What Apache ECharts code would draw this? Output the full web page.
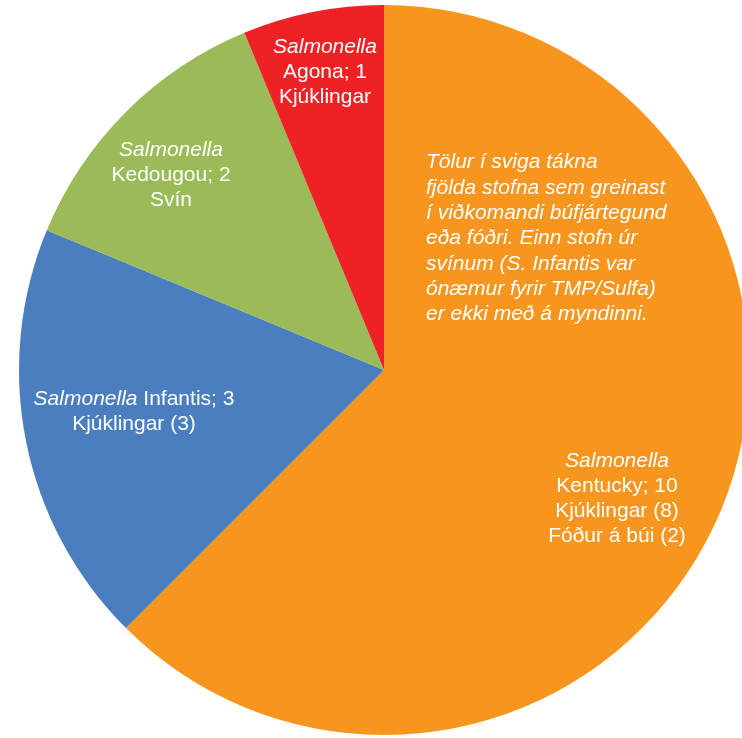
<!DOCTYPE html>
<html>
<head>
<meta charset="utf-8">
<script src="https://cdn.jsdelivr.net/npm/echarts@6/dist/echarts.min.js"></script>
<style>
html,body{margin:0;padding:0;background:#fff;}
#chart{width:742px;height:738px;}
</style>
</head>
<body>
<div id="chart"></div>
<script>
// Data
const serotypes = ['Kentucky', 'Infantis', 'Kedougou', 'Agona'];
const counts = [10, 3, 2, 1];
const sources = [
  ['Kjúklingar (8)', 'Fóður á búi (2)'],
  ['Kjúklingar (3)'],
  ['Svín'],
  ['Kjúklingar']
];
const noteLines = [
  'Tölur í sviga tákna',
  'fjölda stofna sem greinast',
  'í viðkomandi búfjártegund',
  'eða fóðri. Einn stofn úr',
  'svínum (S. Infantis var',
  'ónæmur fyrir TMP/Sulfa)',
  'er ekki með á myndinni.'
];

// Styling / layout (kept separate from data)
const colors = ['#F7961F', '#4A7EBF', '#9BBB59', '#EE2225'];
const labelPos = [[617, 499], [134, 412], [171, 175], [325, 72]];
const FONT = '"Liberation Sans", Arial, sans-serif';
const FS = 21;

function labelText(i) {
  const name = serotypes[i];
  const v = counts[i];
  let head;
  if (name === 'Infantis') {
    head = '{i|Salmonella}{n| ' + name + '; ' + v + '}';
  } else {
    head = '{i|Salmonella}\n{n|' + name + '; ' + v + '}';
  }
  return head + sources[i].map(s => '\n{n|' + s + '}').join('');
}

const chart = echarts.init(document.getElementById('chart'), null, {renderer: 'canvas'});
chart.setOption({
  animation: false,
  backgroundColor: '#ffffff',
  series: [{
    type: 'pie',
    center: [384, 370],
    radius: 365,
    startAngle: 90,
    clockwise: true,
    avoidLabelOverlap: false,
    data: serotypes.map((n, i) => ({
      name: n,
      value: counts[i],
      itemStyle: {color: colors[i]}
    })),
    itemStyle: {borderWidth: 0},
    emphasis: {disabled: true},
    label: {
      show: true,
      position: 'inside',
      formatter: p => labelText(p.dataIndex),
      color: '#ffffff',
      align: 'center',
      rich: {
        i: {fontFamily: FONT, fontSize: FS, fontStyle: 'italic', color: '#ffffff', lineHeight: 25, align: 'center'},
        n: {fontFamily: FONT, fontSize: FS, color: '#ffffff', lineHeight: 25, align: 'center'}
      }
    },
    labelLine: {show: false},
    labelLayout: p => ({
      x: labelPos[p.dataIndex][0],
      y: labelPos[p.dataIndex][1],
      align: 'center',
      verticalAlign: 'middle'
    })
  }],
  graphic: [{
    type: 'text',
    z: 100,
    zlevel: 0,
    left: 426,
    top: 150,
    style: {
      text: noteLines.join('\n'),
      fontFamily: FONT,
      fontSize: FS,
      fontStyle: 'italic',
      fill: '#ffffff',
      lineHeight: 25.3
    }
  }]
});
</script>
</body>
</html>
